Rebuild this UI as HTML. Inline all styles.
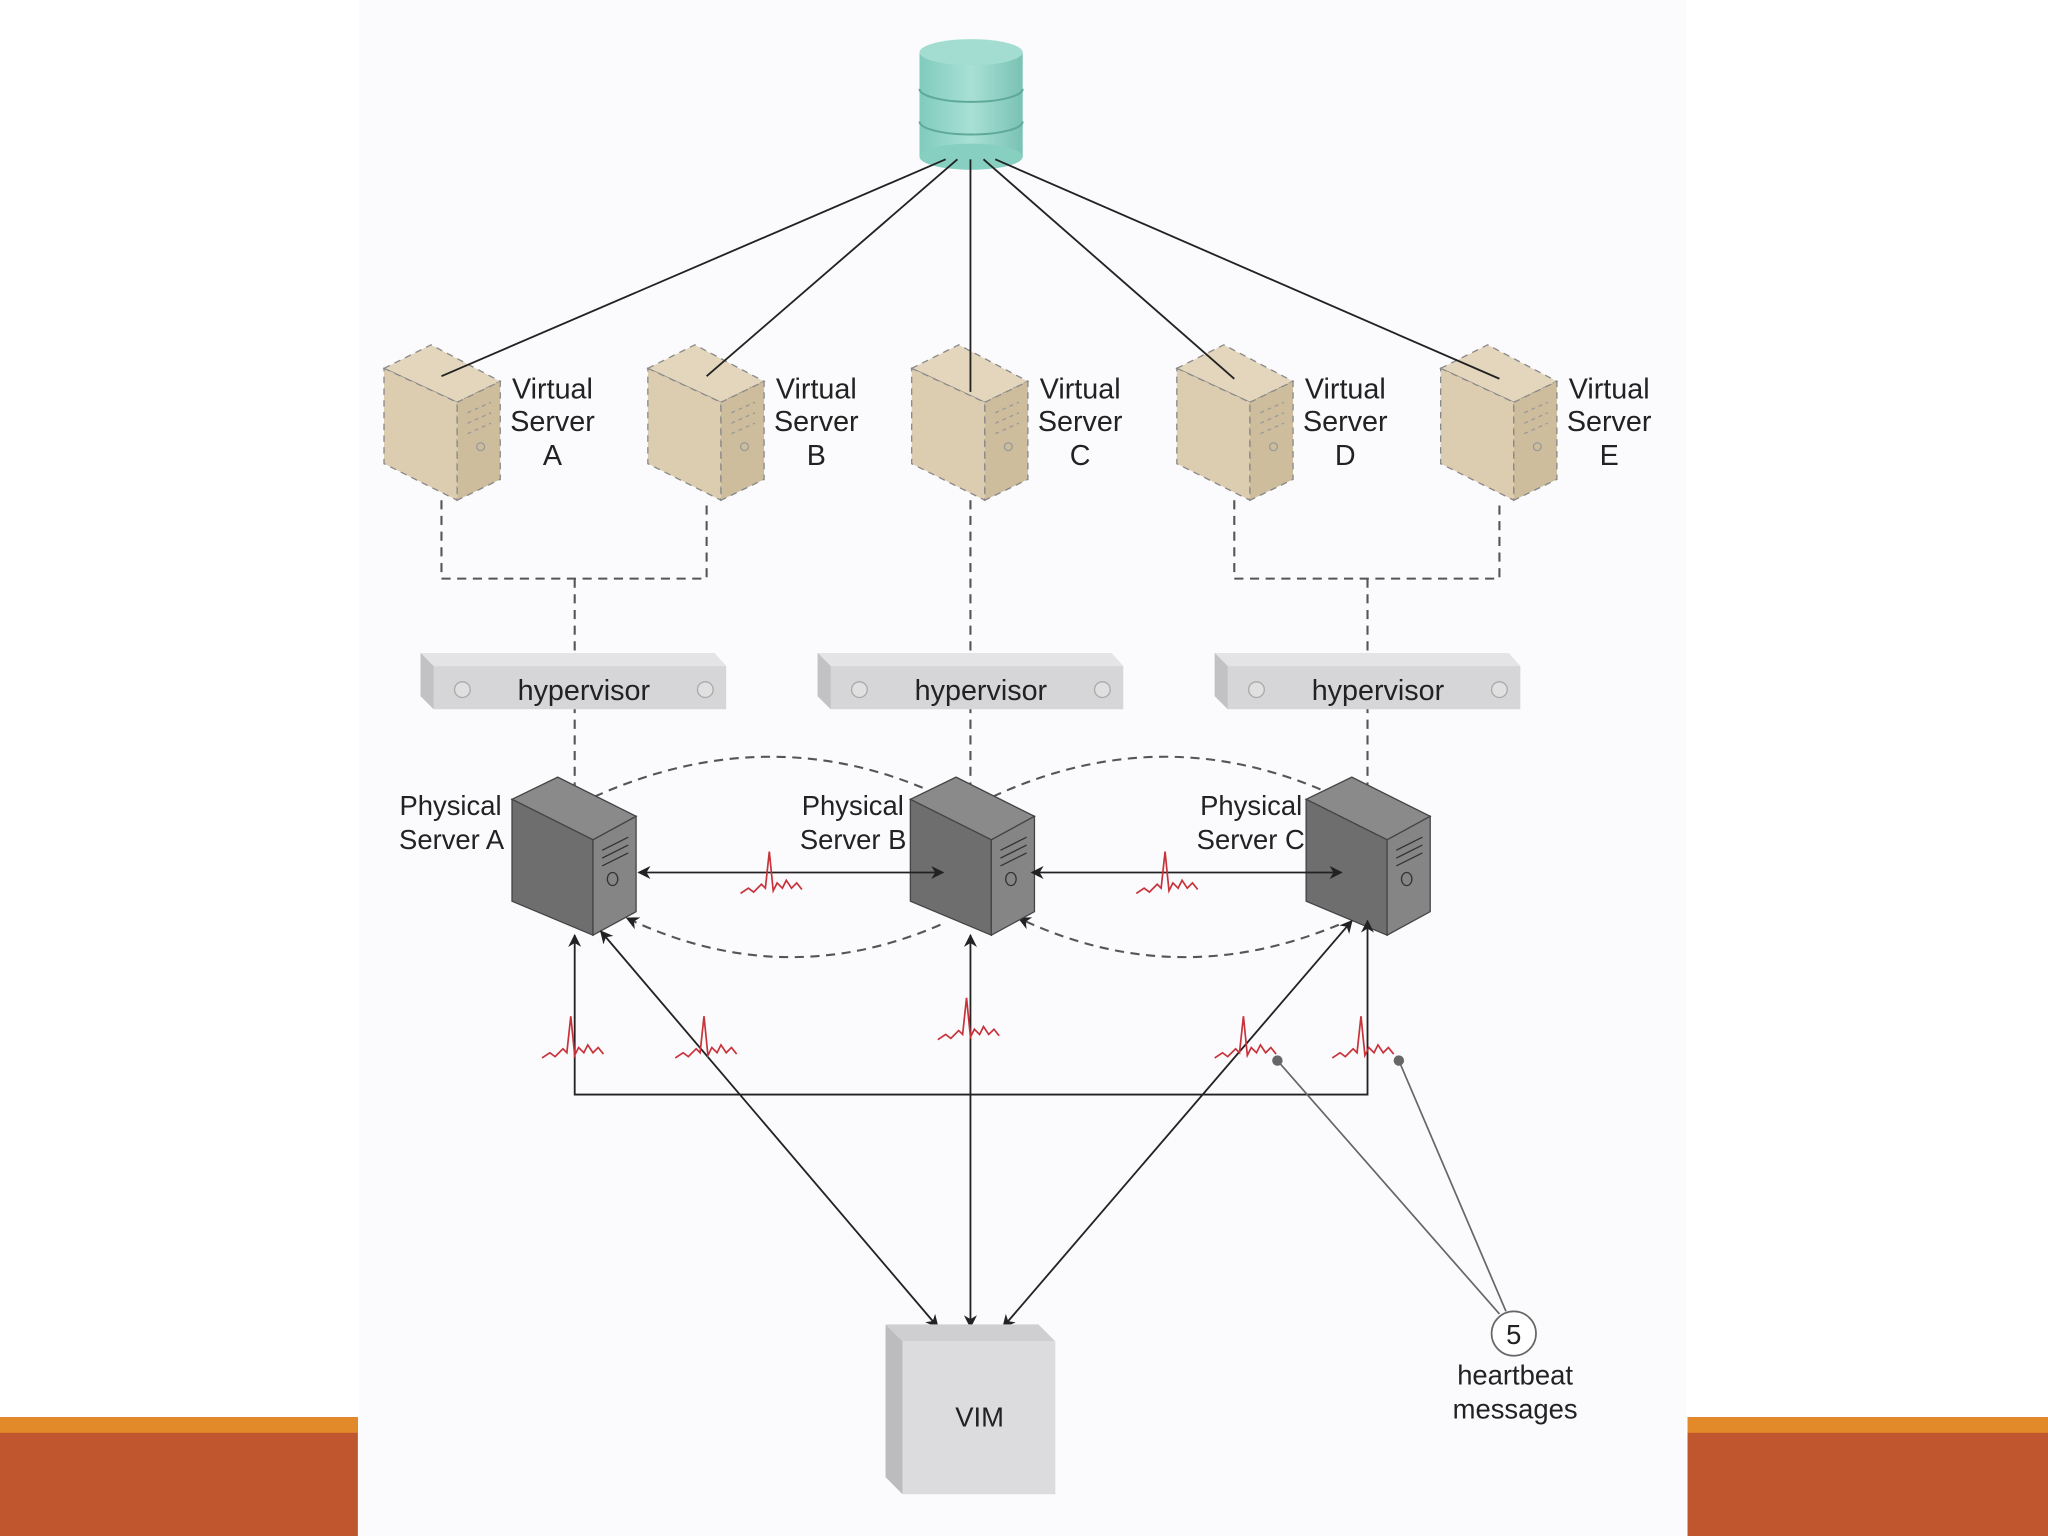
<!DOCTYPE html>
<html><head><meta charset="utf-8"><style>
html,body{margin:0;padding:0;background:#fff;}
svg{display:block;}
text{font-family:"Liberation Sans",sans-serif;fill:#222;}
</style></head><body>
<svg width="2048" height="1536" viewBox="0 0 1568 1176" xmlns="http://www.w3.org/2000/svg">
<defs>
<marker id="ah" markerWidth="10" markerHeight="10" refX="9" refY="5" orient="auto-start-reverse" markerUnits="userSpaceOnUse"><path d="M0,0 L10,5 L0,10 L3,5 z" fill="#222"/></marker>
<linearGradient id="db" x1="0" x2="1"><stop offset="0" stop-color="#7fcbbd"/><stop offset="0.5" stop-color="#a9e0d6"/><stop offset="1" stop-color="#79c2b4"/></linearGradient>
<g id="vs">
<polygon points="0,18 36,0 89,28 56,44" fill="#e3d6bc" stroke="#888" stroke-dasharray="5,4"/>
<polygon points="0,18 56,44 56,119 0,91" fill="#dccdb0" stroke="#888" stroke-dasharray="5,4"/>
<polygon points="56,44 89,28 89,103 56,119" fill="#cdbd9d" stroke="#888" stroke-dasharray="5,4"/>
<path d="M64,52 l18,-8 M64,60 l18,-8 M64,68 l18,-8" stroke="#999" stroke-dasharray="3,3"/>
<circle cx="74" cy="78" r="3" fill="none" stroke="#999"/>
</g>
<g id="ps">
<polygon points="0,17 35,0 95,30 62,48" fill="#8a8a8a" stroke="#444"/>
<polygon points="0,17 62,48 62,121 0,95" fill="#6e6e6e" stroke="#444"/>
<polygon points="62,48 95,30 95,103 62,121" fill="#858585" stroke="#444"/>
<path d="M69,56 l20,-10 M69,62 l20,-10 M69,68 l20,-10" stroke="#333"/>
<ellipse cx="77" cy="78" rx="4" ry="5" fill="none" stroke="#333"/>
</g>
<g id="hv">
<polygon points="0,0 225,0 234,10 234,43 10,43 0,33" fill="#d6d6d8"/>
<polygon points="0,0 225,0 234,10 10,10" fill="#e4e4e6"/>
<polygon points="0,0 10,10 10,43 0,33" fill="#c2c2c4"/>
<circle cx="32" cy="28" r="6" fill="#e0e0e0" stroke="#aaa"/>
<circle cx="218" cy="28" r="6" fill="#e0e0e0" stroke="#aaa"/>
</g>
<path id="hb" d="M0,0 l6,-4 l4,3 l6,-6 l3,3 l3,-28 l3,30 l3,-6 l4,4 l3,-6 l4,6 l4,-4 l4,5" fill="none" stroke="#c8323a" stroke-width="1.3"/>
</defs>
<rect x="275" y="0" width="1016" height="1176" fill="#fbfbfd"/>
<rect x="0" y="1085" width="274" height="91" fill="#c0562e"/>
<rect x="0" y="1085" width="274" height="12" fill="#e28a2a"/>
<rect x="1292" y="1085" width="276" height="91" fill="#c0562e"/>
<rect x="1292" y="1085" width="276" height="12" fill="#e28a2a"/>

<rect x="704" y="40" width="79" height="80" fill="url(#db)"/>
<ellipse cx="743.5" cy="120" rx="39.5" ry="10" fill="#86cfc1"/>
<ellipse cx="743.5" cy="40" rx="39.5" ry="10" fill="#a3ddd2"/>
<path d="M704,68 a39.5,10 0 0 0 79,0 M704,93 a39.5,10 0 0 0 79,0" fill="none" stroke="#5ea99b" stroke-width="1.5"/>

<use href="#vs" x="294" y="264"/>
<use href="#vs" x="496" y="264"/>
<use href="#vs" x="698" y="264"/>
<use href="#vs" x="901" y="264"/>
<use href="#vs" x="1103" y="264"/>
<g stroke="#222" stroke-width="1.4">
<line x1="724" y1="122" x2="338" y2="288"/>
<line x1="733" y1="122" x2="541" y2="288"/>
<line x1="743" y1="122" x2="743" y2="300"/>
<line x1="753" y1="122" x2="945" y2="290"/>
<line x1="762" y1="122" x2="1148" y2="290"/>
</g>
<g font-size="22" text-anchor="middle">
<text x="423" y="305">Virtual</text><text x="423" y="330">Server</text><text x="423" y="356">A</text>
<text x="625" y="305">Virtual</text><text x="625" y="330">Server</text><text x="625" y="356">B</text>
<text x="827" y="305">Virtual</text><text x="827" y="330">Server</text><text x="827" y="356">C</text>
<text x="1030" y="305">Virtual</text><text x="1030" y="330">Server</text><text x="1030" y="356">D</text>
<text x="1232" y="305">Virtual</text><text x="1232" y="330">Server</text><text x="1232" y="356">E</text>
</g>

<g stroke="#555" stroke-width="1.6" stroke-dasharray="7,5" fill="none">
<path d="M338,383 V443 H541 V383"/>
<path d="M440,443 V620"/>
<path d="M743,383 V620"/>
<path d="M945,383 V443 H1148 V383"/>
<path d="M1047,443 V620"/>
<path d="M455,610 Q600,545 738,618" marker-end="url(#ah)"/>
<path d="M760,610 Q900,545 1040,618" marker-end="url(#ah)"/>
<path d="M720,708 Q600,760 480,703" marker-end="url(#ah)"/>
<path d="M1025,708 Q900,760 780,703" marker-end="url(#ah)"/>
</g>

<use href="#hv" x="322" y="500"/>
<use href="#hv" x="626" y="500"/>
<use href="#hv" x="930" y="500"/>
<g font-size="22" text-anchor="middle">
<text x="447" y="536">hypervisor</text>
<text x="751" y="536">hypervisor</text>
<text x="1055" y="536">hypervisor</text>
</g>

<use href="#ps" x="392" y="595"/>
<use href="#ps" x="697" y="595"/>
<use href="#ps" x="1000" y="595"/>
<g font-size="21" text-anchor="end">
<text x="384" y="624">Physical</text><text x="386" y="650">Server A</text>
<text x="692" y="624">Physical</text><text x="694" y="650">Server B</text>
<text x="997" y="624">Physical</text><text x="999" y="650">Server C</text>
</g>

<g stroke="#222" stroke-width="1.4" fill="none">
<line x1="489" y1="668" x2="722" y2="668" marker-start="url(#ah)" marker-end="url(#ah)"/>
<line x1="790" y1="668" x2="1027" y2="668" marker-start="url(#ah)" marker-end="url(#ah)"/>
<path d="M440,716 V838 H1047 V705" marker-start="url(#ah)" marker-end="url(#ah)"/>
<line x1="743" y1="716" x2="743" y2="1016" marker-start="url(#ah)" marker-end="url(#ah)"/>
<line x1="460" y1="713" x2="718" y2="1016" marker-start="url(#ah)" marker-end="url(#ah)"/>
<line x1="1035" y1="705" x2="768" y2="1016" marker-start="url(#ah)" marker-end="url(#ah)"/>
</g>

<use href="#hb" x="567" y="684"/>
<use href="#hb" x="870" y="684"/>
<use href="#hb" x="415" y="810"/>
<use href="#hb" x="517" y="810"/>
<use href="#hb" x="718" y="796"/>
<use href="#hb" x="930" y="810"/>
<use href="#hb" x="1020" y="810"/>

<g stroke="#666" stroke-width="1.3">
<line x1="978" y1="812" x2="1148" y2="1006"/>
<line x1="1071" y1="812" x2="1153" y2="1004"/>
</g>
<circle cx="978" cy="812" r="4" fill="#666"/>
<circle cx="1071" cy="812" r="4" fill="#666"/>
<circle cx="1159" cy="1021" r="17" fill="#fff" stroke="#666" stroke-width="1.3"/>
<text x="1159" y="1029" font-size="21" text-anchor="middle">5</text>
<text x="1160" y="1060" font-size="21" text-anchor="middle">heartbeat</text>
<text x="1160" y="1086" font-size="21" text-anchor="middle">messages</text>

<polygon points="678,1014 795,1014 808,1027 691,1027" fill="#cfcfd1"/>
<polygon points="678,1014 691,1027 691,1144 678,1131" fill="#bcbcbe"/>
<rect x="691" y="1027" width="117" height="117" fill="#dcdcde"/>
<text x="750" y="1092" font-size="21" text-anchor="middle">VIM</text>
</svg>
</body></html>
